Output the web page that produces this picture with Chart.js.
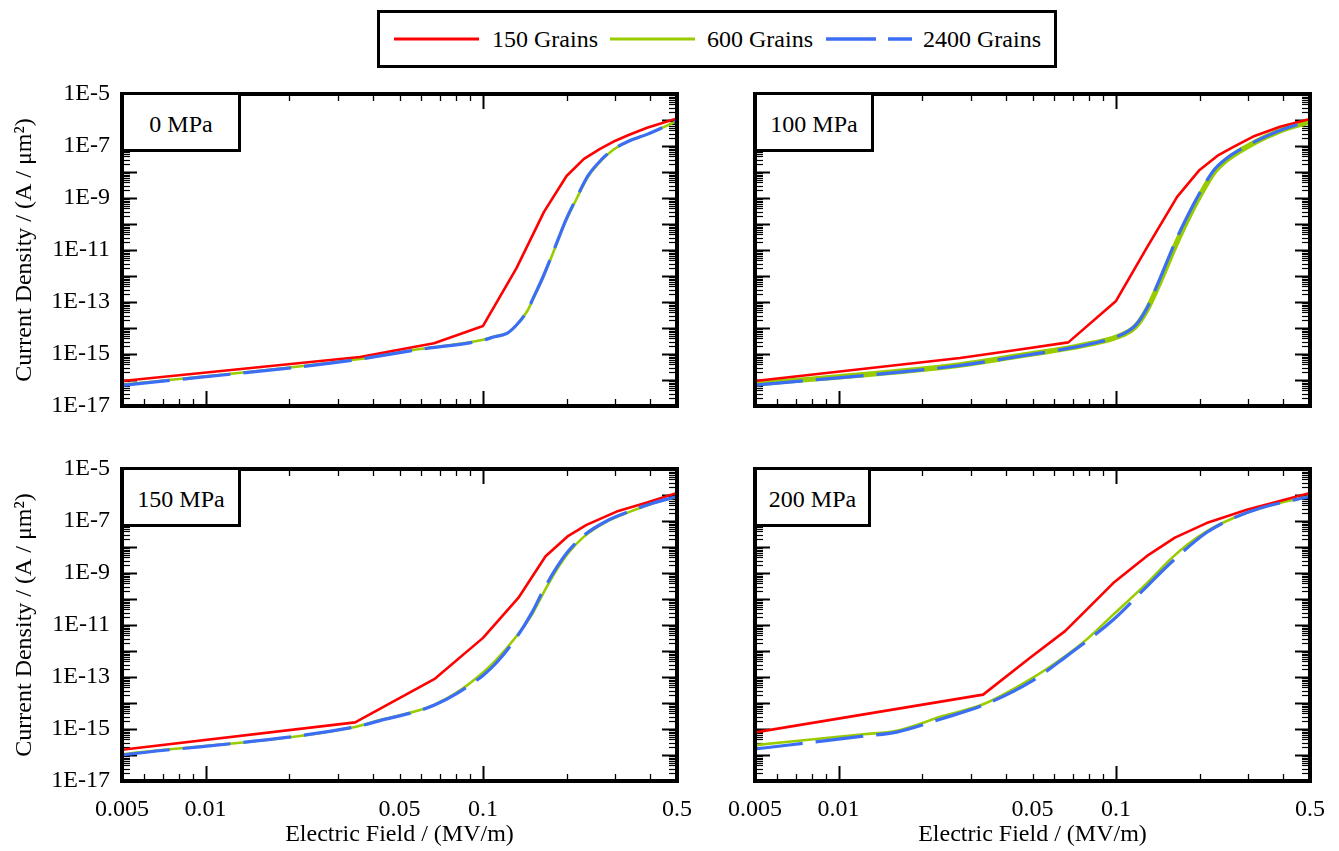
<!DOCTYPE html>
<html>
<head>
<meta charset="utf-8">
<script src="https://cdn.jsdelivr.net/npm/chart.js@4.4.1/dist/chart.umd.min.js"></script>
<style>
  body { margin: 0; background: #fff; }
  #fig { position: relative; width: 1339px; height: 851px; font-family: "Liberation Serif", "Times New Roman", serif; color: #000; }
  #fig canvas { position: absolute; }
  .legend { position: absolute; left: 377px; top: 10px; width: 680px; height: 58px; box-sizing: border-box; border: 3px solid #000; background: #fff; }
  .legend svg, .legend span { position: absolute; }
  .legend span { font-size: 24px; line-height: 28px; top: 12px; white-space: nowrap; }
  .tag { position: absolute; box-sizing: border-box; border: 3px solid #000; background: #fff; font-size: 24px; line-height: 1; padding-top: 4px; display: flex; align-items: center; justify-content: center; }
</style>
</head>
<body>
<div id="fig">
  <div class="legend">
    <svg style="left:14px;top:21px" width="85" height="10"><line x1="0" y1="5" x2="85" y2="5" stroke="#ff0000" stroke-width="3"/></svg>
    <span style="left:112px">150 Grains</span>
    <svg style="left:230px;top:21px" width="85" height="10"><line x1="0" y1="5" x2="85" y2="5" stroke="#99cc00" stroke-width="3"/></svg>
    <span style="left:327px">600 Grains</span>
    <svg style="left:446px;top:21px" width="86" height="10"><line x1="0" y1="5" x2="86" y2="5" stroke="#3b6ef5" stroke-width="3.5" stroke-dasharray="50 12"/></svg>
    <span style="left:543px">2400 Grains</span>
  </div>
</div>
<script>
(() => {
  'use strict'

  const xTickVals = [0.005, 0.01, 0.05, 0.1, 0.5]
  const xTickLabels = ['0.005', '0.01', '0.05', '0.1', '0.5']
  const yTickVals = [1e-17, 1e-15, 1e-13, 1e-11, 1e-9, 1e-7, 1e-5]
  const yTickLabels = ['1E-17', '1E-15', '1E-13', '1E-11', '1E-9', '1E-7', '1E-5']
  const seriesNames = ['150 Grains', '600 Grains', '2400 Grains']
  const panelNames = ['0 MPa', '100 MPa', '150 MPa', '200 MPa']

  // 0 MPa
  const e0Red = [0.005, 0.036, 0.0666, 0.1, 0.132, 0.166, 0.2, 0.231, 0.264, 0.3, 0.333, 0.39, 0.5]
  const j0Red = [9.1e-17, 7.7e-16, 2.6e-15, 1.2e-14, 2e-12, 3e-10, 7e-9, 3.2e-8, 7.7e-8, 1.6e-7, 2.6e-7, 5e-7, 1.15e-6]
  const e0Green = [0.005, 0.036, 0.0425, 0.0593, 0.1, 0.11, 0.122, 0.132, 0.144, 0.152, 0.165, 0.187, 0.198, 0.218, 0.239, 0.268, 0.294, 0.333, 0.39, 0.5]
  const j0Green = [6.5e-17, 6.4e-16, 8.6e-16, 1.55e-15, 3.5e-15, 4.7e-15, 6.3e-15, 1.3e-14, 4.3e-14, 1.4e-13, 9.4e-13, 2.6e-11, 1.2e-10, 1e-9, 6.6e-9, 2.9e-8, 7e-8, 1.5e-7, 2.8e-7, 9e-7]
  const e0Blue = [0.005, 0.036, 0.0425, 0.0593, 0.1, 0.11, 0.122, 0.132, 0.144, 0.152, 0.165, 0.187, 0.198, 0.218, 0.239, 0.268, 0.294, 0.333, 0.39, 0.5]
  const j0Blue = [6.2e-17, 6.3e-16, 8.5e-16, 1.5e-15, 3.4e-15, 4.6e-15, 6.2e-15, 1.3e-14, 4.4e-14, 1.5e-13, 1e-12, 2.8e-11, 1.3e-10, 1.1e-9, 7.2e-9, 3.1e-8, 7.3e-8, 1.5e-7, 2.8e-7, 9e-7]

  // 100 MPa
  const e1Red = [0.005, 0.0274, 0.045, 0.0673, 0.1, 0.129, 0.166, 0.2, 0.234, 0.265, 0.312, 0.39, 0.5]
  const j1Red = [9.1e-17, 7e-16, 1.5e-15, 2.8e-15, 1.1e-13, 1.2e-11, 1.1e-9, 1.2e-8, 4.5e-8, 9.3e-8, 2.3e-7, 5.5e-7, 1.1e-6]
  const e1Green = [0.005, 0.0274, 0.045, 0.0664, 0.0828, 0.1, 0.117, 0.129, 0.144, 0.166, 0.187, 0.204, 0.224, 0.25, 0.296, 0.349, 0.412, 0.5]
  const j1Green = [7e-17, 3.8e-16, 8.6e-16, 1.65e-15, 2.6e-15, 4.4e-15, 1.1e-14, 4.9e-14, 6e-13, 2.1e-11, 3e-10, 1.7e-9, 8.9e-9, 2.9e-8, 9.3e-8, 2.3e-7, 4.8e-7, 8.6e-7]
  const e1Blue = [0.005, 0.0274, 0.045, 0.0664, 0.0828, 0.1, 0.117, 0.129, 0.144, 0.166, 0.187, 0.204, 0.224, 0.25, 0.296, 0.349, 0.412, 0.5]
  const j1Blue = [6.3e-17, 3.6e-16, 8.2e-16, 1.6e-15, 2.6e-15, 4.5e-15, 1.2e-14, 5.6e-14, 8e-13, 3e-11, 4e-10, 2.2e-9, 1.1e-8, 3.3e-8, 1e-7, 2.4e-7, 4.9e-7, 8.8e-7]

  // 150 MPa
  const e2Red = [0.005, 0.0346, 0.0672, 0.1, 0.134, 0.168, 0.203, 0.236, 0.303, 0.39, 0.5]
  const j2Red = [1.6e-16, 1.8e-15, 8.7e-14, 3.2e-12, 1.1e-10, 4.4e-9, 2.7e-8, 7.1e-8, 2.3e-7, 5.1e-7, 1.2e-6]
  const e2Green = [0.005, 0.0346, 0.0425, 0.0593, 0.0672, 0.0803, 0.1, 0.112, 0.132, 0.15, 0.165, 0.184, 0.203, 0.23, 0.279, 0.339, 0.411, 0.5]
  const j2Green = [1.07e-16, 1.2e-15, 2.2e-15, 5.4e-15, 8.9e-15, 2.5e-14, 1.5e-13, 4.8e-13, 3.7e-12, 2.5e-11, 1.7e-10, 1.3e-9, 5.9e-9, 2.4e-8, 9.5e-8, 2.3e-7, 4.8e-7, 8.7e-7]
  const e2Blue = [0.005, 0.0346, 0.0425, 0.0593, 0.0672, 0.0803, 0.1, 0.112, 0.132, 0.15, 0.165, 0.184, 0.203, 0.23, 0.279, 0.339, 0.411, 0.5]
  const j2Blue = [1.0e-16, 1.2e-15, 2.1e-15, 5.2e-15, 8.5e-15, 2.3e-14, 1.15e-13, 3.6e-13, 3.3e-12, 3e-11, 2.2e-10, 1.6e-9, 7e-9, 2.7e-8, 1e-7, 2.4e-7, 4.9e-7, 8.8e-7]

  // 200 MPa
  const e3Red = [0.005, 0.0332, 0.049, 0.0655, 0.0784, 0.0977, 0.131, 0.163, 0.212, 0.296, 0.5]
  const j3Red = [7.4e-16, 2.1e-14, 5.5e-13, 5.8e-12, 3.9e-11, 4.1e-10, 5e-9, 2.3e-8, 8.3e-8, 2.7e-7, 1.2e-6]
  const e3Green = [0.005, 0.0123, 0.0162, 0.0239, 0.0332, 0.049, 0.0655, 0.0784, 0.0977, 0.129, 0.159, 0.18, 0.212, 0.265, 0.33, 0.5]
  const j3Green = [2.4e-16, 6.3e-16, 8.5e-16, 3.2e-15, 8.9e-15, 8.1e-14, 6.3e-13, 2.8e-12, 2.5e-11, 4e-10, 3.8e-9, 1.2e-8, 4e-8, 1.3e-7, 3.1e-7, 9.2e-7]
  const e3Blue = [0.005, 0.0123, 0.0162, 0.0239, 0.0332, 0.049, 0.0655, 0.0977, 0.129, 0.159, 0.212, 0.265, 0.33, 0.5]
  const j3Blue = [1.7e-16, 5.3e-16, 7.6e-16, 2.6e-15, 8.2e-15, 6.3e-14, 5.7e-13, 1.6e-11, 3e-10, 2.7e-9, 3.6e-8, 1.3e-7, 3.1e-7, 8.8e-7]

  const fontFamily = '"Liberation Serif", "Times New Roman", serif'
  Chart.defaults.font.family = fontFamily
  Chart.defaults.font.size = 24
  Chart.defaults.color = '#000'

  const pts = (xs, ys) => xs.map((x, i) => ({ x: x, y: ys[i] }))

  const frameTicks = {
    id: 'frameTicks',
    beforeDatasetsDraw(chart) {
      const { ctx, chartArea: a, scales: { x, y } } = chart
      const seg = (x1, y1, x2, y2) => { ctx.beginPath(); ctx.moveTo(x1, y1); ctx.lineTo(x2, y2); ctx.stroke() }
      ctx.save()
      ctx.strokeStyle = '#000'
      for (let d = -3; d <= -1; d++) {
        for (let m = 1; m <= 9; m++) {
          const v = m * Math.pow(10, d)
          if (v <= 0.005 * 1.001 || v >= 0.5 * 0.999) continue
          const px = Math.round(x.getPixelForValue(v)) + 0.5
          const len = m === 1 ? 15 : 7
          ctx.lineWidth = m === 1 ? 2 : 1.3
          seg(px, a.bottom, px, a.bottom - len)
          seg(px, a.top, px, a.top + len)
        }
      }
      for (let d = -17; d <= -6; d++) {
        for (let m = 1; m <= 9; m++) {
          const v = m * Math.pow(10, d)
          if (v <= 1e-17 * 1.001 || v >= 1e-5 * 0.999) continue
          const py = Math.round(y.getPixelForValue(v)) + 0.5
          const len = m === 1 ? 15 : 8
          ctx.lineWidth = m === 1 ? 2 : 1.2
          seg(a.left, py, a.left + len, py)
          seg(a.right, py, a.right - len, py)
        }
      }
      ctx.restore()
    },
    afterDatasetsDraw(chart) {
      const { ctx, chartArea: a } = chart
      ctx.save()
      ctx.strokeStyle = '#000'
      ctx.lineWidth = 4
      ctx.strokeRect(a.left, a.top, a.right - a.left, a.bottom - a.top)
      ctx.restore()
    }
  }

  const fig = document.getElementById('fig')

  // canvas boxes: chart area lands at x 122..677 / 755..1310, y 94..406 / 469..781
  const panels = [
    { name: panelNames[0], left: 0, top: 64, w: 720, h: 372, yW: 122, xH: 30, padR: 43, showY: true, showX: false, greenW: 2.6,
      red: pts(e0Red, j0Red), green: pts(e0Green, j0Green), blue: pts(e0Blue, j0Blue), tag: [121, 92, 120, 60] },
    { name: panelNames[1], left: 700, top: 64, w: 639, h: 372, yW: 55, xH: 30, padR: 29, showY: false, showX: false, greenW: 5.5,
      red: pts(e1Red, j1Red), green: pts(e1Green, j1Green), blue: pts(e1Blue, j1Blue), tag: [754, 92, 120, 60] },
    { name: panelNames[2], left: 0, top: 439, w: 720, h: 412, yW: 122, xH: 70, padR: 43, showY: true, showX: true, greenW: 2.6,
      red: pts(e2Red, j2Red), green: pts(e2Green, j2Green), blue: pts(e2Blue, j2Blue), tag: [121, 467, 120, 60] },
    { name: panelNames[3], left: 700, top: 439, w: 639, h: 412, yW: 55, xH: 70, padR: 29, showY: false, showX: true, greenW: 2.6,
      red: pts(e3Red, j3Red), green: pts(e3Green, j3Green), blue: pts(e3Blue, j3Blue), tag: [754, 467, 117, 60] }
  ]

  panels.forEach(p => {
    const cv = document.createElement('canvas')
    cv.width = p.w
    cv.height = p.h
    cv.style.left = p.left + 'px'
    cv.style.top = p.top + 'px'
    fig.appendChild(cv)

    new Chart(cv, {
      type: 'line',
      data: {
        datasets: [
          { label: seriesNames[0], data: p.red, borderColor: '#ff0000', borderWidth: 2.6, order: 1 },
          { label: seriesNames[1], data: p.green, borderColor: '#99cc00', borderWidth: p.greenW, cubicInterpolationMode: 'monotone', order: 2 },
          { label: seriesNames[2], data: p.blue, borderColor: '#3b6ef5', borderWidth: 3.2, borderDash: [48, 13], cubicInterpolationMode: 'monotone', order: 0 }
        ]
      },
      options: {
        responsive: false,
        animation: false,
        layout: { padding: { top: 30, right: p.padR, left: 0, bottom: 0 } },
        elements: { point: { radius: 0 }, line: { tension: 0, borderJoinStyle: 'round' } },
        plugins: { legend: { display: false }, tooltip: { enabled: false } },
        scales: {
          x: {
            type: 'logarithmic',
            min: 0.005,
            max: 0.5,
            grid: { display: false, drawTicks: false },
            border: { display: false },
            afterBuildTicks: s => { s.ticks = xTickVals.map(v => ({ value: v })) },
            afterFit: s => { s.height = p.xH },
            ticks: { display: p.showX, padding: 14, autoSkip: false, maxRotation: 0, callback: (v, i) => xTickLabels[i] },
            title: { display: p.showX, text: 'Electric Field / (MV/m)', padding: { top: 0, bottom: 2 } }
          },
          y: {
            type: 'logarithmic',
            min: 1e-17,
            max: 1e-5,
            grid: { display: false, drawTicks: false },
            border: { display: false },
            afterBuildTicks: s => { s.ticks = yTickVals.map(v => ({ value: v })) },
            afterFit: s => { s.width = p.yW },
            ticks: { display: p.showY, padding: 12, autoSkip: false, callback: (v, i) => yTickLabels[i] },
            title: { display: p.showY, text: 'Current Density / (A / μm²)', padding: { top: 10, bottom: 0 } }
          }
        }
      },
      plugins: [frameTicks]
    })

    const tag = document.createElement('div')
    tag.className = 'tag'
    tag.style.left = p.tag[0] + 'px'
    tag.style.top = p.tag[1] + 'px'
    tag.style.width = p.tag[2] + 'px'
    tag.style.height = p.tag[3] + 'px'
    tag.textContent = p.name
    fig.appendChild(tag)
  })
})()
</script>
</body>
</html>
